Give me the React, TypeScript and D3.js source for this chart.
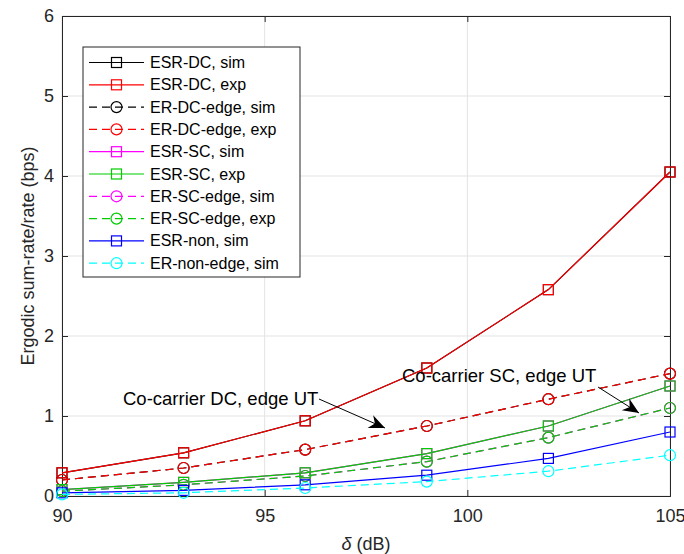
import React, { useRef, useEffect } from 'react';
import * as d3 from 'd3';

const deltas = [90, 93, 96, 99, 102, 105];
const esrDc = [0.29, 0.54, 0.94, 1.6, 2.58, 4.05];
const erDcEdge = [0.2, 0.35, 0.58, 0.875, 1.21, 1.53];
const esrSc = [0.08, 0.17, 0.29, 0.53, 0.875, 1.375];
const erScEdge = [0.06, 0.14, 0.25, 0.43, 0.73, 1.1];
const esrNon = [0.04, 0.07, 0.14, 0.26, 0.47, 0.8];
const erNonEdge = [0.02, 0.04, 0.1, 0.18, 0.31, 0.51];

const xTicks = [90, 95, 100, 105];
const yTicks = [0, 1, 2, 3, 4, 5, 6];

const series = [
  { name: 'ESR-DC, sim', values: esrDc, color: '#000000', dash: false, marker: 'square' },
  { name: 'ESR-DC, exp', values: esrDc, color: '#ff0000', dash: false, marker: 'square' },
  { name: 'ER-DC-edge, sim', values: erDcEdge, color: '#000000', dash: true, marker: 'circle' },
  { name: 'ER-DC-edge, exp', values: erDcEdge, color: '#ff0000', dash: true, marker: 'circle' },
  { name: 'ESR-SC, sim', values: esrSc, color: '#ff00ff', dash: false, marker: 'square' },
  { name: 'ESR-SC, exp', values: esrSc, color: '#00cc00', dash: false, marker: 'square' },
  { name: 'ER-SC-edge, sim', values: erScEdge, color: '#ff00ff', dash: true, marker: 'circle' },
  { name: 'ER-SC-edge, exp', values: erScEdge, color: '#00cc00', dash: true, marker: 'circle' },
  { name: 'ESR-non, sim', values: esrNon, color: '#0000ff', dash: false, marker: 'square' },
  { name: 'ER-non-edge, sim', values: erNonEdge, color: '#00ffff', dash: true, marker: 'circle' },
];

const FONT = 'Liberation Sans, Arial, Helvetica, sans-serif';

const App = () => {
  const svgRef = useRef(null);

  useEffect(() => {
    const width = 684;
    const height = 554;
    const margin = { top: 16, right: 14, bottom: 58, left: 62 };
    const w = width - margin.left - margin.right;
    const h = height - margin.top - margin.bottom;

    d3.select(svgRef.current).selectAll('*').remove();

    const root = d3.select(svgRef.current)
      .attr('width', width)
      .attr('height', height);

    root.append('rect').attr('width', width).attr('height', height).attr('fill', '#fff');

    const svg = root.append('g')
      .attr('transform', `translate(${margin.left},${margin.top})`);

    const x = d3.scaleLinear().domain([90, 105]).range([0, w]);
    const y = d3.scaleLinear().domain([0, 6]).range([h, 0]);

    // grid
    svg.append('g')
      .selectAll('line')
      .data(xTicks)
      .enter().append('line')
      .attr('x1', d => x(d)).attr('x2', d => x(d))
      .attr('y1', 0).attr('y2', h)
      .attr('stroke', '#e3e3e3').attr('stroke-width', 1);
    svg.append('g')
      .selectAll('line')
      .data(yTicks)
      .enter().append('line')
      .attr('x1', 0).attr('x2', w)
      .attr('y1', d => y(d)).attr('y2', d => y(d))
      .attr('stroke', '#e3e3e3').attr('stroke-width', 1);

    // axes
    const axisColor = '#262626';
    const xAxis = svg.append('g')
      .attr('transform', `translate(0,${h})`)
      .call(d3.axisBottom(x).tickValues(xTicks).tickSize(-6).tickPadding(13).tickFormat(d3.format('d')));
    const yAxis = svg.append('g')
      .call(d3.axisLeft(y).tickValues(yTicks).tickSize(-6).tickPadding(8).tickFormat(d3.format('d')));
    svg.append('g')
      .call(d3.axisTop(x).tickValues(xTicks).tickSize(-6).tickFormat(() => ''));
    svg.append('g')
      .attr('transform', `translate(${w},0)`)
      .call(d3.axisRight(y).tickValues(yTicks).tickSize(-6).tickFormat(() => ''));

    svg.selectAll('.domain').attr('stroke', axisColor);
    svg.selectAll('.tick line').attr('stroke', axisColor);
    [xAxis, yAxis].forEach(a => a.selectAll('text')
      .attr('fill', axisColor)
      .style('font-family', FONT)
      .style('font-size', '18px'));

    // lines
    const line = d3.line<number>()
      .x((_, i) => x(deltas[i]))
      .y(d => y(d));

    series.forEach(s => {
      const g = svg.append('g');
      g.append('path')
        .datum(s.values)
        .attr('fill', 'none')
        .attr('stroke', s.color)
        .attr('stroke-width', 1.2)
        .attr('stroke-dasharray', s.dash ? '8,5' : null)
        .attr('d', line);
      s.values.forEach((v, i) => {
        if (s.marker === 'square') {
          g.append('rect')
            .attr('x', x(deltas[i]) - 5).attr('y', y(v) - 5)
            .attr('width', 10).attr('height', 10)
            .attr('fill', 'none').attr('stroke', s.color).attr('stroke-width', 1.2);
        } else {
          g.append('circle')
            .attr('cx', x(deltas[i])).attr('cy', y(v)).attr('r', 5.5)
            .attr('fill', 'none').attr('stroke', s.color).attr('stroke-width', 1.2);
        }
      });
    });

    // annotations
    const arrow = (x1, y1, x2, y2) => {
      svg.append('line')
        .attr('x1', x1).attr('y1', y1).attr('x2', x2).attr('y2', y2)
        .attr('stroke', '#000').attr('stroke-width', 1);
      const ang = Math.atan2(y2 - y1, x2 - x1);
      const len = 16, hw = 7, back = 11;
      const pt = (dl, dw) => [x2 + Math.cos(ang) * dl - Math.sin(ang) * dw, y2 + Math.sin(ang) * dl + Math.cos(ang) * dw];
      const p = [[x2, y2], pt(-len, hw), pt(-back, 0), pt(-len, -hw)];
      svg.append('path')
        .attr('d', 'M' + p.map(q => q.join(',')).join('L') + 'Z')
        .attr('fill', '#000');
    };

    svg.append('text')
      .attr('x', 123 - margin.left).attr('y', 405 - margin.top)
      .style('font-family', FONT).style('font-size', '18.5px')
      .attr('fill', '#000')
      .text('Co-carrier DC, edge UT');
    arrow(319 - margin.left, 399 - margin.top, 385 - margin.left, 428 - margin.top);

    svg.append('text')
      .attr('x', 402 - margin.left).attr('y', 382 - margin.top)
      .style('font-family', FONT).style('font-size', '18.5px')
      .attr('fill', '#000')
      .text('Co-carrier SC, edge UT');
    arrow(598 - margin.left, 387 - margin.top, 639 - margin.left, 413 - margin.top);

    // legend
    const lx = 83 - margin.left, ly = 47 - margin.top;
    const lg = svg.append('g').attr('transform', `translate(${lx},${ly})`);
    lg.append('rect')
      .attr('width', 217).attr('height', 230)
      .attr('fill', '#fff').attr('stroke', axisColor).attr('stroke-width', 1);
    series.forEach((s, i) => {
      const ry = 15.5 + i * 22.3;
      lg.append('line')
        .attr('x1', 6).attr('x2', 61).attr('y1', ry).attr('y2', ry)
        .attr('stroke', s.color).attr('stroke-width', 1.2)
        .attr('stroke-dasharray', s.dash ? '8,5' : null);
      if (s.marker === 'square') {
        lg.append('rect').attr('x', 28.5).attr('y', ry - 5).attr('width', 10).attr('height', 10)
          .attr('fill', 'none').attr('stroke', s.color).attr('stroke-width', 1.2);
      } else {
        lg.append('circle').attr('cx', 33.5).attr('cy', ry).attr('r', 5.5)
          .attr('fill', 'none').attr('stroke', s.color).attr('stroke-width', 1.2);
      }
      lg.append('text')
        .attr('x', 67).attr('y', ry + 5.5)
        .style('font-family', FONT).style('font-size', '16px')
        .attr('fill', '#000')
        .text(s.name);
    });

    // axis labels
    root.append('text')
      .attr('transform', `translate(34,${margin.top + h / 2}) rotate(-90)`)
      .style('text-anchor', 'middle')
      .style('font-family', FONT).style('font-size', '18px')
      .attr('fill', axisColor)
      .text('Ergodic sum-rate/rate (bps)');

    const xl = root.append('text')
      .attr('x', margin.left + w / 2).attr('y', 550)
      .style('text-anchor', 'middle')
      .style('font-family', FONT).style('font-size', '18px')
      .attr('fill', axisColor);
    xl.append('tspan').style('font-style', 'italic').text('δ');
    xl.append('tspan').text(' (dB)');
  }, []);

  return <svg ref={svgRef} style={{ position: 'absolute', left: 0, top: 0 }}></svg>;
};

export default App;
